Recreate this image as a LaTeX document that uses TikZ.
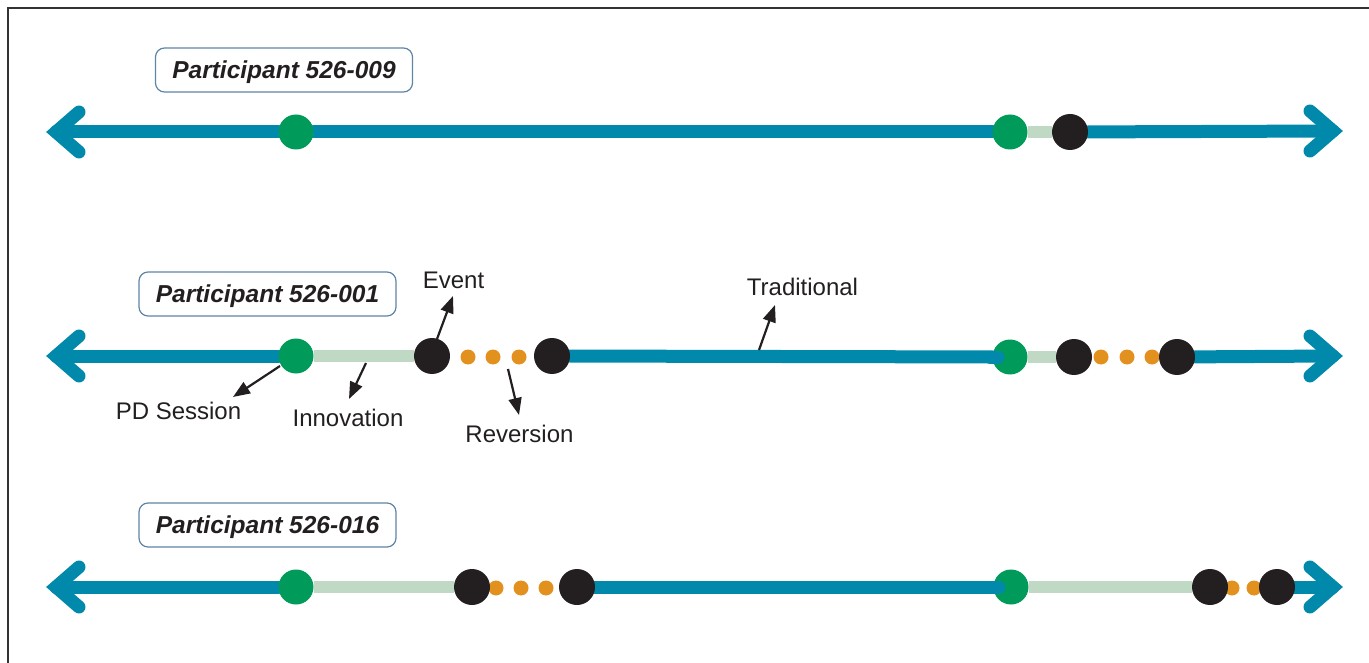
\documentclass[tikz,border=0pt]{standalone}
\usepackage{fontspec}
\setmainfont{Liberation Sans}
\usetikzlibrary{arrows.meta,calc,backgrounds}
\definecolor{tlblue}{RGB}{0,137,170}
\definecolor{tlgreen}{RGB}{0,154,90}
\definecolor{tllight}{RGB}{191,217,197}
\definecolor{tlblack}{RGB}{35,31,32}
\definecolor{tlorange}{RGB}{227,145,30}
\definecolor{tlbox}{RGB}{95,132,166}
\begin{document}
\begin{tikzpicture}[x=1pt,y=-1pt,
  gdot/.style={circle,fill=tlgreen,minimum size=35pt,inner sep=0pt},
  kdot/.style={circle,fill=tlblack,minimum size=36pt,inner sep=0pt},
  odot/.style={circle,fill=tlorange,minimum size=15pt,inner sep=0pt},
  trad/.style={line width=13pt,draw=tlblue,line cap=round},
  inno/.style={line width=12pt,draw=tllight},
  chev/.style={line width=13pt,draw=tlblue,line cap=round,line join=miter},
  plabel/.style={draw=tlbox,line width=1.2pt,rounded corners=9pt,text=tlblack,
    font=\fontsize{24.5}{28}\selectfont\bfseries\itshape,minimum width=257pt,minimum height=44pt,
    inner sep=0pt,text depth=0pt},
  ann/.style={font=\fontsize{24}{28}\selectfont,text=tlblack,inner sep=0pt,anchor=base},
  pointer/.style={draw=tlblack,line width=2.2pt,-{Triangle[length=17pt,width=13pt]}}]
\useasboundingbox (0,0) rectangle (1369,663);
\draw[line width=1.5pt,draw=black!80] (8,663) -- (8,8) -- (1369,8);

% ---------- Row 1 ----------
\node[plabel] (p1) at (284,70) {Participant 526-009};
\coordinate (L1) at (56,132);
\coordinate (R1) at (1333,131);
\node[gdot] (g1a) at (296,132) {};
\node[gdot] (g1b) at (1010,132) {};
\node[kdot] (k1a) at (1070,132) {};
\begin{scope}[on background layer]
\draw[trad] (L1) -- (g1a) -- (g1b);
\draw[inno] (g1b) -- (k1a);
\draw[trad] (k1a) -- (R1);
\end{scope}
\draw[chev] ($(L1)+(23,-20)$) -- (L1) -- ($(L1)+(23,20)$);
\draw[chev] ($(R1)+(-23,-20)$) -- (R1) -- ($(R1)+(-23,20)$);

% ---------- Row 2 ----------
\node[plabel] (p2) at (267.5,294) {Participant 526-001};
\coordinate (L2) at (56,356);
\coordinate (R2) at (1333,356);
\node[gdot] (g2a) at (296,356) {};
\node[odot] (o2a) at (468,357) {};
\node[odot] (o2b) at (493,357) {};
\node[odot] (o2c) at (519,357) {};
\node[kdot] (k2a) at (432,356) {};
\node[kdot] (k2b) at (552,356) {};
\node[gdot] (g2b) at (1010,357) {};
\node[odot] (o2d) at (1101,357) {};
\node[odot] (o2e) at (1127,357) {};
\node[odot] (o2f) at (1152,357) {};
\node[kdot] (k2c) at (1074,357) {};
\node[kdot] (k2d) at (1177,357) {};
\begin{scope}[on background layer]
\draw[trad] (L2) -- (g2a);
\draw[inno] (g2a) -- (k2a);
\draw[trad] (k2b) -- (g2b);
\draw[inno] (g2b) -- (k2c);
\draw[trad] (k2d) -- (R2);
\end{scope}
\draw[trad] ($(g2b.west)+(-2,0)$) -- ($(g2b)+(-12,0)$);
\draw[chev] ($(L2)+(23,-20)$) -- (L2) -- ($(L2)+(23,20)$);
\draw[chev] ($(R2)+(-23,-20)$) -- (R2) -- ($(R2)+(-23,20)$);

% annotations
\node[ann] (ev) at (453.5,289) {Event};
\node[ann] (pd) at (178.5,419) {PD Session};
\node[ann] (inn) at (348,426) {Innovation};
\node[ann] (rev) at (519.5,442) {Reversion};
\node[ann] (tr) at (802.5,296) {Traditional};
\coordinate (evt) at (453,296);
\coordinate (pdt) at (233,397);
\coordinate (innt) at (349,399);
\coordinate (revt) at (519,415);
\coordinate (trt) at (775,305);
\coordinate (inns) at (366,363);
\coordinate (revs) at (508,369);
\coordinate (trs) at (759,350);
\draw[pointer] ($(k2a)+(5,-17)$) -- (evt);
\draw[pointer] ($(g2a)+(-16,10)$) -- (pdt);
\draw[pointer] (inns) -- (innt);
\draw[pointer] (revs) -- (revt);
\draw[pointer] (trs) -- (trt);

% ---------- Row 3 ----------
\node[plabel] (p3) at (267.5,525) {Participant 526-016};
\coordinate (L3) at (56,587);
\coordinate (R3) at (1333,587);
\node[gdot] (g3a) at (296,587) {};
\node[odot] (o3a) at (496,588) {};
\node[odot] (o3b) at (521,588) {};
\node[odot] (o3c) at (546,588) {};
\node[kdot] (k3a) at (472,587) {};
\node[kdot] (k3b) at (577,587) {};
\node[gdot] (g3b) at (1011,587) {};
\node[odot] (o3d) at (1232,588) {};
\node[odot] (o3e) at (1254,588) {};
\node[kdot] (k3c) at (1210,587) {};
\node[kdot] (k3d) at (1277,587) {};
\begin{scope}[on background layer]
\draw[trad] (L3) -- (g3a);
\draw[inno] (g3a) -- (k3a);
\draw[trad] (k3b) -- (g3b);
\draw[inno] (g3b) -- (k3c);
\draw[trad] (k3d) -- (R3);
\end{scope}
\draw[trad] ($(g3b.west)+(-2,0)$) -- ($(g3b)+(-12,0)$);
\draw[chev] ($(L3)+(23,-20)$) -- (L3) -- ($(L3)+(23,20)$);
\draw[chev] ($(R3)+(-23,-20)$) -- (R3) -- ($(R3)+(-23,20)$);
\end{tikzpicture}
\end{document}
